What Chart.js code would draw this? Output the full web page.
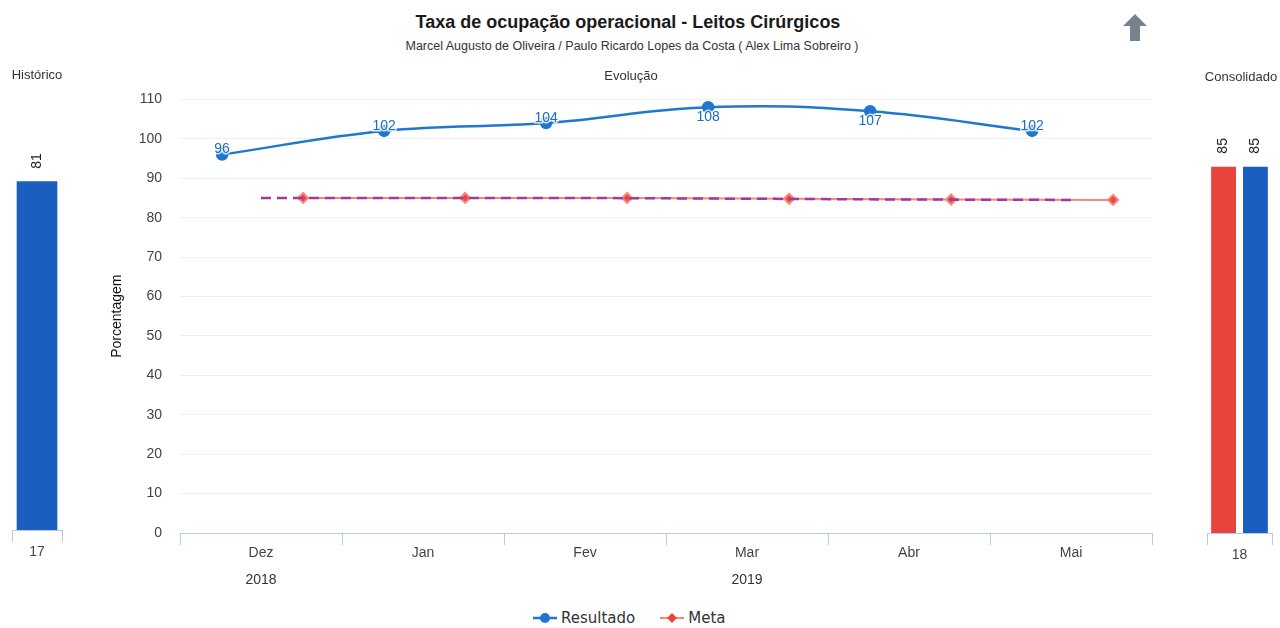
<!DOCTYPE html>
<html>
<head>
<meta charset="utf-8">
<script src="https://cdn.jsdelivr.net/npm/chart.js@4.4.0/dist/chart.umd.min.js"></script>
<style>
body { margin: 0; background: #fff; width: 1280px; height: 628px; overflow: hidden; position: relative;
       font-family: "Liberation Sans", Arial, sans-serif; color: #222; }
.t { position: absolute; white-space: nowrap; transform: translate(-50%, -50%); }
canvas { position: absolute; }
#legend { position: absolute; left: 532px; top: 609px; font-family: "DejaVu Sans", sans-serif; font-size: 15px; color: #333; display: flex; align-items: center; }
#legend span { display: flex; align-items: center; }
</style>
</head>
<body>
<canvas id="hist" width="80" height="490" style="left:0;top:80px"></canvas>
<canvas id="evol" width="1080" height="527" style="left:100px;top:73px"></canvas>
<canvas id="cons" width="90" height="490" style="left:1190px;top:80px"></canvas>

<div class="t" style="left:628px;top:22px;font-size:18px;font-weight:bold;color:#1a1a1a">Taxa de ocupação operacional - Leitos Cirúrgicos</div>
<div class="t" style="left:632px;top:46px;font-size:12.5px;color:#333">Marcel Augusto de Oliveira / Paulo Ricardo Lopes da Costa ( Alex Lima Sobreiro )</div>
<div class="t" style="left:631px;top:75px;font-size:13px;color:#333">Evolução</div>
<div class="t" style="left:37px;top:74px;font-size:13px;color:#333">Histórico</div>
<div class="t" style="left:1241px;top:76px;font-size:13px;color:#333">Consolidado</div>
<svg style="position:absolute;left:1123px;top:14px" width="24" height="27" viewBox="0 0 24 27">
  <path d="M12 0 L24 12 L17 12 L17 27 L7 27 L7 12 L0 12 Z" fill="#76828e"/>
</svg>

<div id="legend">
  <span><svg width="26" height="12"><line x1="1" y1="6" x2="25" y2="6" stroke="#1f77d0" stroke-width="2.5"/><circle cx="13" cy="6" r="5" fill="#1f77d0"/></svg>
    <span style="margin-left:3px">Resultado</span></span>
  <span style="margin-left:24px"><svg width="26" height="12"><line x1="1" y1="6" x2="25" y2="6" stroke="#f4897c" stroke-width="2"/><path d="M13 1 L18 6 L13 11 L8 6 Z" fill="#f0443c"/></svg>
    <span style="margin-left:3px">Meta</span></span>
</div>

<script>
// dados
const months = ['Dez', 'Jan', 'Fev', 'Mar', 'Abr', 'Mai'];
const years = ['2018', '2019'];
const yearSpans = [[0, 0], [1, 5]];
const resultado = [96, 102, 104, 108, 107, 102];
const meta = [85, 85, 85, 84.8, 84.6, 84.5];

const historicoLabels = ['17'];
const historicoValues = [81];

const consolidadoLabels = ['18'];
const consolidadoMeta = [85];
const consolidadoResultado = [85];

// estilo
const blue = '#1f77d0';
const barBlue = '#1a5fc0';
const barRed = '#e8433c';
const axisColor = '#b5cde3';
const resOffset = -0.24;
const metaOffset = 0.26;
const labelBelow = [false, false, false, true, true, false];
const font = "'Liberation Sans', Arial, sans-serif";

const rotatedLabels = {
    id: 'rotatedLabels',
    afterDatasetsDraw(chart) {
        const ctx = chart.ctx;
        ctx.save();
        ctx.font = '14px ' + font;
        ctx.fillStyle = '#222';
        ctx.textAlign = 'left';
        ctx.textBaseline = 'middle';
        chart.data.datasets.forEach((ds, di) => {
            chart.getDatasetMeta(di).data.forEach((bar, i) => {
                ctx.save();
                ctx.translate(bar.x, bar.y - 13);
                ctx.rotate(-Math.PI / 2);
                ctx.fillText(String(ds.data[i]), 0, 0);
                ctx.restore();
            });
        });
        ctx.restore();
    }
};

function barAxis(h) {
    return {
        grid: { offset: true, drawOnChartArea: false, tickLength: 12, color: axisColor },
        border: { color: axisColor },
        ticks: { color: '#444', font: { size: 14, family: font }, padding: 2 },
        afterFit(s) { s.height = h; }
    };
}

new Chart(document.getElementById('hist'), {
    type: 'bar',
    data: {
        labels: historicoLabels,
        datasets: [{ data: historicoValues, backgroundColor: barBlue, barThickness: 40 }]
    },
    options: {
        responsive: false,
        animation: false,
        layout: { padding: { left: 12, right: 18, top: 20, bottom: 0 } },
        plugins: { legend: { display: false }, tooltip: { enabled: false } },
        scales: {
            x: barAxis(40),
            y: { display: false, min: 0, max: 100 }
        }
    },
    plugins: [rotatedLabels]
});

new Chart(document.getElementById('cons'), {
    type: 'bar',
    data: {
        labels: consolidadoLabels,
        datasets: [
            { data: consolidadoMeta, backgroundColor: barRed },
            { data: consolidadoResultado, backgroundColor: barBlue }
        ]
    },
    options: {
        responsive: false,
        animation: false,
        categoryPercentage: 0.98,
        barPercentage: 0.78,
        layout: { padding: { left: 17, right: 8, top: 22, bottom: 0 } },
        plugins: { legend: { display: false }, tooltip: { enabled: false } },
        scales: {
            x: barAxis(37),
            y: { display: false, min: 0, max: 100 }
        }
    },
    plugins: [rotatedLabels]
});

const yearLabels = {
    id: 'yearLabels',
    afterDraw(chart) {
        const s = chart.scales.x;
        const ctx = chart.ctx;
        ctx.save();
        ctx.font = '14px ' + font;
        ctx.fillStyle = '#333';
        ctx.textAlign = 'center';
        ctx.textBaseline = 'middle';
        years.forEach((y, i) => {
            const x = (s.getPixelForValue(yearSpans[i][0]) + s.getPixelForValue(yearSpans[i][1])) / 2;
            ctx.fillText(y, x, 507);
        });
        ctx.restore();
    }
};

const valueLabels = {
    id: 'valueLabels',
    afterDatasetsDraw(chart) {
        const ctx = chart.ctx;
        ctx.save();
        ctx.font = '14px ' + font;
        ctx.textAlign = 'center';
        ctx.textBaseline = 'middle';
        ctx.lineWidth = 3;
        ctx.strokeStyle = 'rgba(255,255,255,0.8)';
        ctx.fillStyle = '#1a6cc4';
        chart.getDatasetMeta(0).data.forEach((pt, i) => {
            const y = pt.y + (labelBelow[i] ? 10 : -5);
            ctx.strokeText(String(resultado[i]), pt.x, y);
            ctx.fillText(String(resultado[i]), pt.x, y);
        });
        ctx.restore();
    }
};

new Chart(document.getElementById('evol'), {
    type: 'line',
    data: {
        labels: months,
        datasets: [
            {
                label: 'Resultado',
                data: resultado.map((v, i) => ({ x: i + resOffset, y: v })),
                xAxisID: 'xv',
                borderColor: blue,
                backgroundColor: blue,
                borderWidth: 2.5,
                pointRadius: 5,
                tension: 0.4,
                order: 0
            },
            {
                label: 'tendencia',
                data: meta.map((v, i) => ({ x: i, y: v })),
                xAxisID: 'xv',
                borderColor: '#a03a9e',
                borderWidth: 2.5,
                borderDash: [10, 6],
                pointRadius: 0,
                order: 1
            },
            {
                label: 'Meta',
                data: meta.map((v, i) => ({ x: i + metaOffset, y: v })),
                xAxisID: 'xv',
                borderColor: '#f4897c',
                backgroundColor: '#f0443c',
                borderWidth: 2,
                pointStyle: 'rectRot',
                pointRadius: 5,
                order: 2
            }
        ]
    },
    options: {
        responsive: false,
        animation: false,
        layout: { padding: { left: 0, right: 28, top: 11, bottom: 0 } },
        plugins: { legend: { display: false }, tooltip: { enabled: false } },
        scales: {
            x: {
                type: 'category',
                offset: true,
                grid: { offset: true, drawOnChartArea: false, tickLength: 12, color: axisColor },
                border: { color: axisColor },
                ticks: { color: '#444', font: { size: 14, family: font }, padding: 0 },
                afterFit(s) { s.height = 67; }
            },
            xv: { type: 'linear', display: false, min: -0.5, max: 5.5 },
            y: {
                min: 0,
                max: 110,
                ticks: { stepSize: 10, color: '#444', font: { size: 14, family: font }, padding: 18 },
                grid: { color: '#efefef', drawTicks: false },
                border: { display: false },
                title: { display: true, text: 'Porcentagem', color: '#111', font: { size: 14, family: font }, padding: { top: 9, bottom: 0 } },
                afterFit(s) { s.width = 80; }
            }
        }
    },
    plugins: [yearLabels, valueLabels]
});
</script>
</body>
</html>
